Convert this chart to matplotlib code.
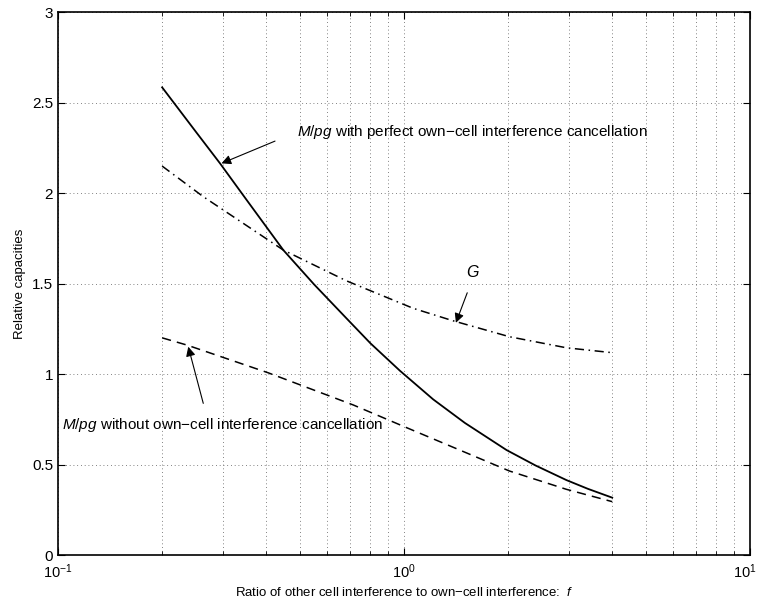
import numpy as np
import matplotlib.pyplot as plt
from matplotlib.transforms import ScaledTranslation

plt.rcParams['font.family'] = ['Liberation Sans', 'DejaVu Sans']
plt.rcParams['mathtext.fontset'] = 'custom'
plt.rcParams['mathtext.rm'] = 'Liberation Sans'
plt.rcParams['mathtext.it'] = 'Liberation Sans:italic'

# values
f_perfect = [0.2, 0.25, 0.294, 0.35, 0.448, 0.55, 0.682, 0.8, 0.974, 1.215, 1.5, 1.98, 2.4, 2.95, 3.4, 4.0]
cap_perfect = [2.584, 2.34, 2.164, 1.965, 1.685, 1.495, 1.308, 1.17, 1.018, 0.86, 0.73, 0.58, 0.495, 0.414, 0.366, 0.317]

f_gain = [0.2, 0.263, 0.448, 0.682, 1.064, 1.388, 2.02, 2.95, 4.0]
gain = [2.149, 1.98, 1.685, 1.515, 1.363, 1.294, 1.206, 1.145, 1.118]

f_without = [0.2, 0.236, 0.405, 0.714, 1.0, 2.02, 2.95, 4.0]
cap_without = [1.2, 1.16, 1.007, 0.829, 0.71, 0.464, 0.363, 0.295]

xtick_pos = [0.1, 1, 10]
xtick_labels = [r'$10^{-1}$', r'$10^{0}$', r'$10^{1}$']
ytick_pos = [0, 0.5, 1, 1.5, 2, 2.5, 3]
ytick_labels = ['0', '0.5', '1', '1.5', '2', '2.5', '3']

fig = plt.figure(figsize=(7.59, 6.02), dpi=100)
ax = fig.add_axes([0.0764, 0.078, 0.9116, 0.902])

ax.plot(f_perfect, cap_perfect, color='k', lw=1.3)
ax.plot(f_gain, gain, color='k', lw=1.1, linestyle=(0, (6, 3, 1, 3)))
ax.plot(f_without, cap_without, color='k', lw=1.1, linestyle=(0, (6, 4)))

ax.set_xscale('log')
ax.set_xlim(0.1, 10)
ax.set_ylim(0, 3)
ax.set_xticks(xtick_pos, xtick_labels)
ax.set_yticks(ytick_pos, ytick_labels)

grid_style = dict(color='0.35', linestyle=(0, (1, 3.5)), lw=0.6)
ax.grid(True, which='major', axis='both', **grid_style)
ax.grid(True, which='minor', axis='x', **grid_style)

ax.tick_params(which='both', direction='in', top=True, right=True)
ax.tick_params(axis='y', labelsize=11)
ax.tick_params(axis='x', labelsize=10.5, pad=5)
ax.tick_params(which='major', length=5)
ax.tick_params(which='minor', length=3)
for s in ax.spines.values():
    s.set_linewidth(1.2)

# keep the 10^1 label inside the figure edge
last = ax.xaxis.get_major_ticks()[-1].label1
last.set_transform(last.get_transform() + ScaledTranslation(-4 / 72, 0, fig.dpi_scale_trans))

ax.set_xlabel(r'Ratio of other cell interference to own−cell interference:  $f$', fontsize=9.5)
ax.set_ylabel('Relative capacities', fontsize=9.5)

arrow = dict(arrowstyle='-|>', color='k', lw=0.8, mutation_scale=14, shrinkA=0, shrinkB=0)
ax.annotate('', xy=(0.297, 2.164), xytext=(0.424, 2.287), arrowprops=arrow)
ax.text(0.491, 2.339, r'$M/pg$ with perfect own−cell interference cancellation',
        fontsize=11, va='center', ha='left')

ax.annotate('', xy=(1.413, 1.283), xytext=(1.524, 1.449), arrowprops=arrow)
ax.text(1.586, 1.565, r'$G$', fontsize=11.5, va='center', ha='center')

ax.annotate('', xy=(0.238, 1.151), xytext=(0.263, 0.838), arrowprops=arrow)
ax.text(0.1027, 0.718, r'$M/pg$ without own−cell interference cancellation',
        fontsize=11, va='center', ha='left')

fig.savefig('out.png', dpi=100)
